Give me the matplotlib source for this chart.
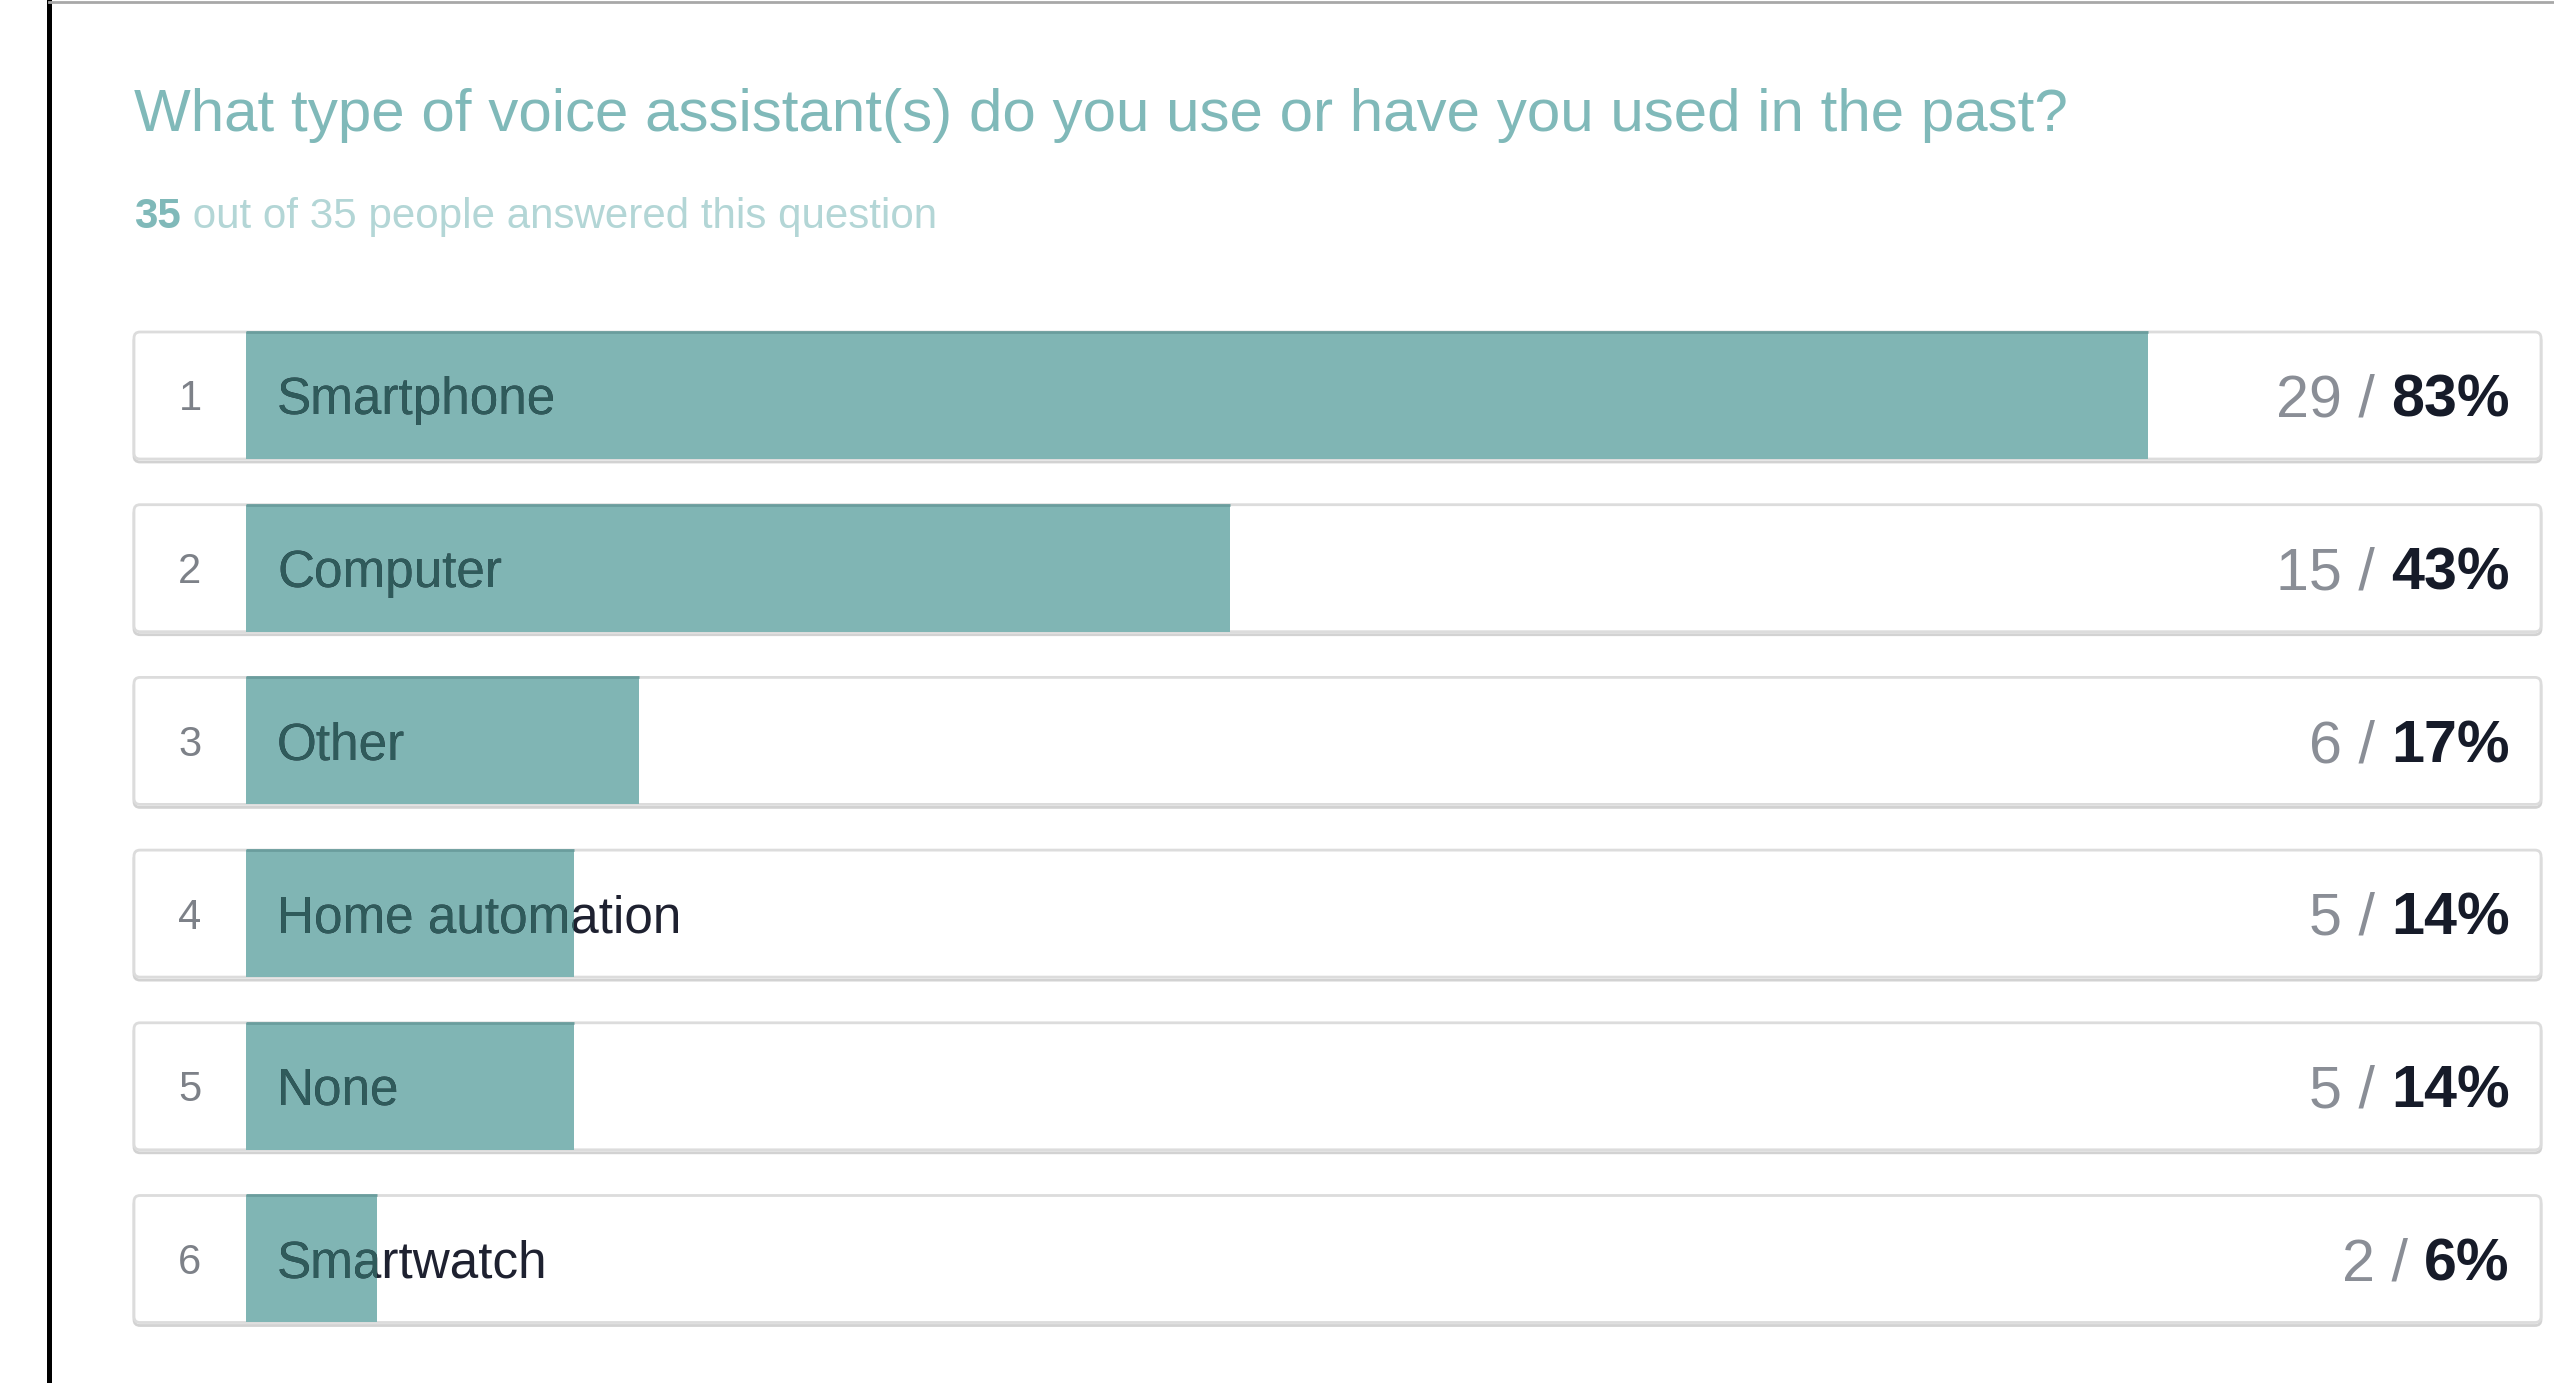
import matplotlib
matplotlib.use("Agg")
import matplotlib.pyplot as plt
from matplotlib import font_manager, transforms
from matplotlib.patches import FancyBboxPatch
from matplotlib.lines import Line2D

title = "What type of voice assistant(s) do you use or have you used in the past?"
answered = 35
total = 35
ranks = [1, 2, 3, 4, 5, 6]
labels = ["Smartphone", "Computer", "Other", "Home automation", "None", "Smartwatch"]
counts = [29, 15, 6, 5, 5, 2]
percents = [83, 43, 17, 14, 14, 6]

names = {f.name for f in font_manager.fontManager.ttflist}
FONT = "Liberation Sans Narrow" if "Liberation Sans Narrow" in names else "Liberation Sans"
# the screenshot font is narrow; with the regular face shrink sizes to keep the widths
k = 1.0 if FONT.endswith("Narrow") else 0.82

W, H = 2554, 1383
fig = plt.figure(figsize=(W / 100, H / 100), dpi=100)
fig.patch.set_facecolor("white")

# layout in pixels
box_left, bar_left, box_right = 134, 246, 2541
row_top, row_pitch, row_h = 332, 172.7, 127
n = len(labels)
ax_top = row_top + row_h / 2 - row_pitch / 2
ax_bot = ax_top + n * row_pitch
ax = fig.add_axes([bar_left / W, 1 - ax_bot / H, (box_right - bar_left) / W, (ax_bot - ax_top) / H])
ax.set_xlim(0, total)
ax.set_ylim(n - 0.5, -0.5)
ax.set_axis_off()

px_x = total / (box_right - bar_left)      # data units per pixel, x
px_y = n / (ax_bot - ax_top)              # data units per pixel, y
bh = row_h * px_y
pad = (bar_left - box_left) * px_x

def shifted(dx=0, dy=0):
    return transforms.offset_copy(ax.transData, fig=fig, x=dx, y=dy, units="dots")

# frame lines of the screenshot
fig.add_artist(Line2D([49 / W, 49 / W], [0, 1], color="black", lw=3.6))
fig.add_artist(Line2D([49 / W, 1], [1 - 1.5 / H, 1 - 1.5 / H], color="#a8a8a8", lw=2))

for i in range(n):
    for dy, ec in [(-3, "#d2d2d2"), (0, "#dcdcdc")]:
        box = FancyBboxPatch((-pad, i - bh / 2), total + pad, bh,
                             boxstyle="round,pad=0,rounding_size=%f" % (6 * px_x),
                             mutation_aspect=px_y / px_x,
                             fc="white", ec=ec, lw=2, clip_on=False,
                             transform=shifted(0, dy), zorder=1)
        ax.add_patch(box)

bars = ax.barh(range(n), counts, height=bh, left=0, color="#80b5b4", edgecolor="none", zorder=2)
ax.hlines([i - bh / 2 for i in range(n)], 0, counts, color="#6a9d9d", lw=2, zorder=3)

fs_rank, fs_label, fs_val = 30, 45 * k, 52 * k
for i, bar in enumerate(bars):
    # rank number
    ax.text(-pad / 2, i, str(ranks[i]), ha="center", va="baseline", fontsize=fs_rank,
            family=FONT, color="#7d8188", transform=shifted(0, -fs_rank / 2), zorder=4)
    # label: dark outside the bar, teal-dark over the bar
    ax.text(0, i, labels[i], ha="left", va="baseline", fontsize=fs_label, family=FONT,
            color="#1e2130", transform=shifted(31, -fs_label / 2), zorder=4, clip_on=False)
    t = ax.text(0, i, labels[i], ha="left", va="baseline", fontsize=fs_label, family=FONT,
                color="#2f5b5b", transform=shifted(31, -fs_label / 2), zorder=5)
    t.set_clip_box(transforms.TransformedBbox(bar.get_bbox(), ax.transData))
    t.set_clip_on(True)
    # count / percent
    pct = ax.text(total, i, f"{percents[i]}%", ha="right", va="baseline", fontsize=fs_val,
                  family=FONT, weight="bold", color="#161b29",
                  transform=shifted(-31, -fs_val / 2), zorder=4)
    ax.annotate(f"{counts[i]} / ", xy=(0, 0), xycoords=pct, ha="right", va="bottom",
                fontsize=fs_val, family=FONT, color="#8a8e96", zorder=4)

# title and subtitle
fig.text(box_left / W, 1 - 131 / H, title, ha="left", va="baseline", fontsize=52.8 * k,
         family=FONT, color="#80b9b9")
sub = fig.text(box_left / W, 1 - 228 / H, str(answered), ha="left", va="baseline",
               fontsize=37 * k, family=FONT, weight="bold", color="#80b9b9")
fig.add_artist(plt.Annotation(f" out of {total} people answered this question", xy=(1, 0),
                              xycoords=sub, ha="left", va="bottom", fontsize=37 * k,
                              family=FONT, color="#b3d6d6"))

fig.savefig("out.png", dpi=100, facecolor="white")
